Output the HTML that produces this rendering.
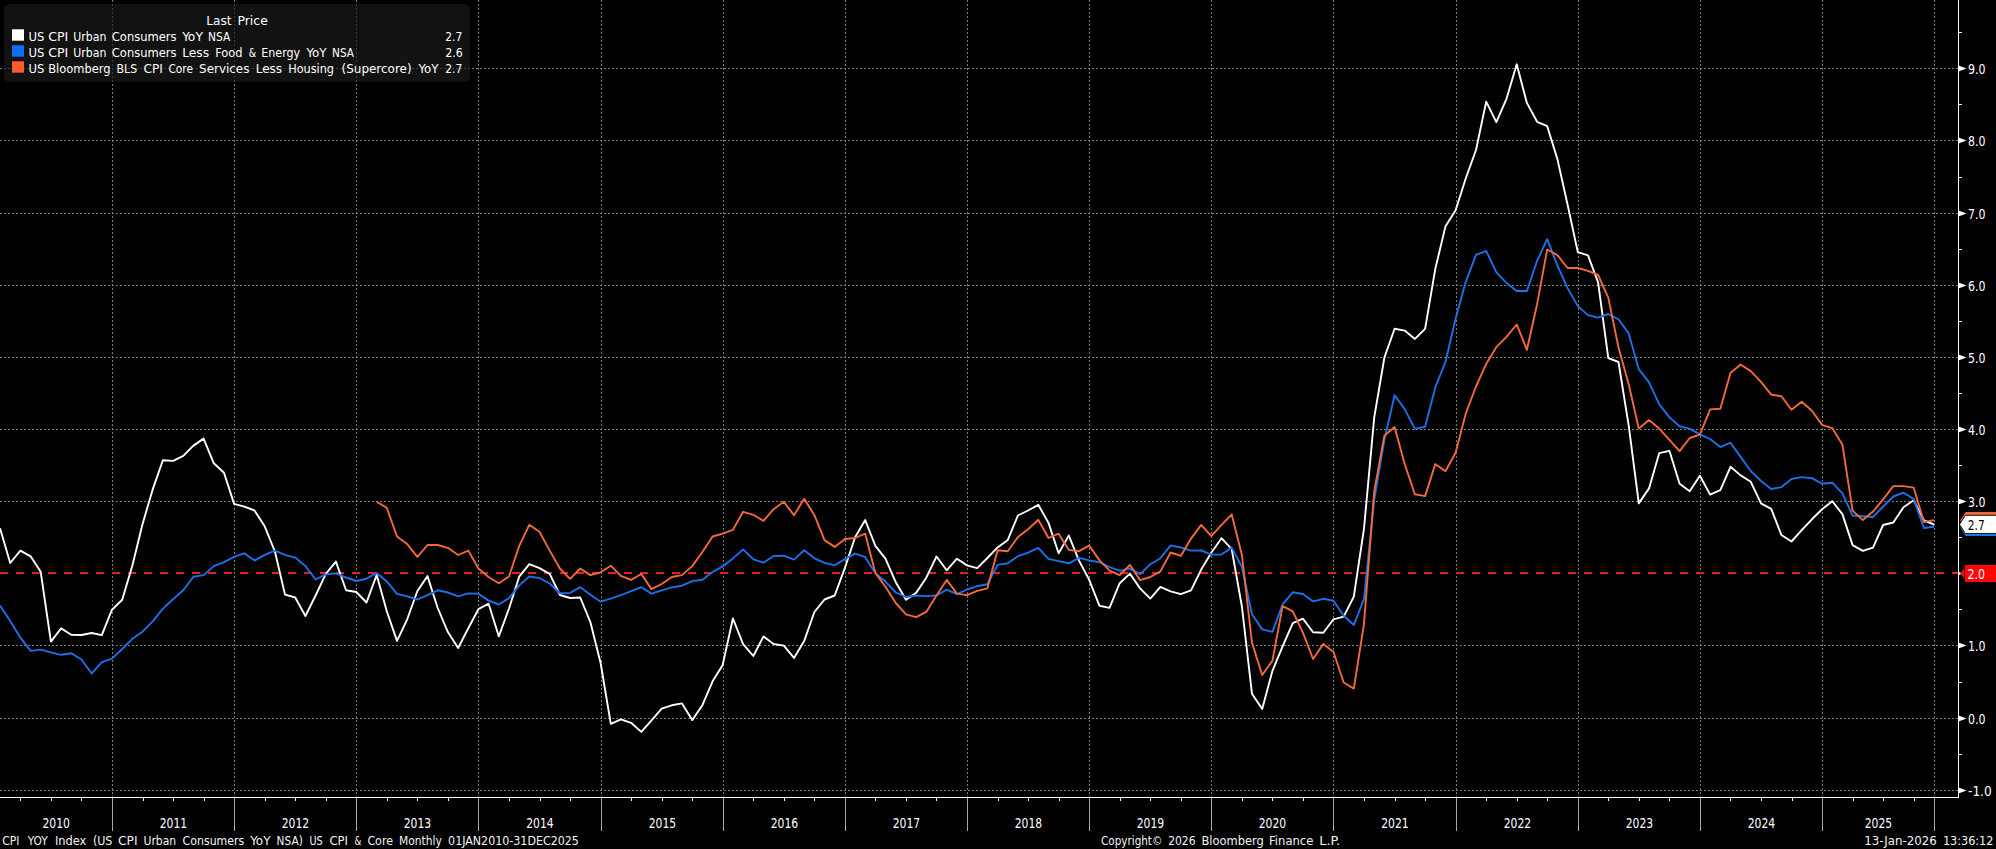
<!DOCTYPE html>
<html lang="en"><head><meta charset="utf-8"><title>US CPI &amp; Core</title>
<style>
html,body{margin:0;padding:0;background:#000;overflow:hidden}
body{width:1996px;height:849px;position:relative;font-family:"DejaVu Sans Condensed", "DejaVu Sans", "Liberation Sans", sans-serif}
</style></head><body>
<svg width="1996" height="849" viewBox="0 0 1996 849" style="display:block;position:absolute;left:0;top:0">
<rect x="0" y="0" width="1996" height="849" fill="#000"/>
<g stroke="#7c7c7c" stroke-width="1" stroke-dasharray="2 2" shape-rendering="crispEdges"><line x1="0" y1="68.5" x2="1958.5" y2="68.5"/><line x1="0" y1="140.5" x2="1958.5" y2="140.5"/><line x1="0" y1="213.5" x2="1958.5" y2="213.5"/><line x1="0" y1="285.5" x2="1958.5" y2="285.5"/><line x1="0" y1="357.5" x2="1958.5" y2="357.5"/><line x1="0" y1="429.5" x2="1958.5" y2="429.5"/><line x1="0" y1="501.5" x2="1958.5" y2="501.5"/><line x1="0" y1="645.5" x2="1958.5" y2="645.5"/><line x1="0" y1="718.5" x2="1958.5" y2="718.5"/><line x1="0" y1="790.5" x2="1958.5" y2="790.5"/><line x1="112.5" y1="0" x2="112.5" y2="797"/><line x1="234.5" y1="0" x2="234.5" y2="797"/><line x1="356.5" y1="0" x2="356.5" y2="797"/><line x1="478.5" y1="0" x2="478.5" y2="797"/><line x1="601.5" y1="0" x2="601.5" y2="797"/><line x1="723.5" y1="0" x2="723.5" y2="797"/><line x1="845.5" y1="0" x2="845.5" y2="797"/><line x1="967.5" y1="0" x2="967.5" y2="797"/><line x1="1089.5" y1="0" x2="1089.5" y2="797"/><line x1="1211.5" y1="0" x2="1211.5" y2="797"/><line x1="1333.5" y1="0" x2="1333.5" y2="797"/><line x1="1456.5" y1="0" x2="1456.5" y2="797"/><line x1="1578.5" y1="0" x2="1578.5" y2="797"/><line x1="1700.5" y1="0" x2="1700.5" y2="797"/><line x1="1822.5" y1="0" x2="1822.5" y2="797"/><line x1="1934.5" y1="0" x2="1934.5" y2="797"/></g>
<rect x="4" y="4" width="466" height="77.8" rx="5" ry="5" fill="#1c1c1c" fill-opacity="0.65"/>
<line x1="0" y1="573" x2="1958.0" y2="573" stroke="#e81c24" stroke-width="2" stroke-dasharray="8 8" shape-rendering="crispEdges"/>
<polyline fill="none" stroke="#ffffff" stroke-width="1.9" stroke-linejoin="round" points="0.0,528.2 10.2,563.0 20.4,550.7 30.6,556.3 40.7,571.8 50.9,641.6 61.1,628.4 71.3,634.7 81.5,635.0 91.6,633.0 101.8,635.1 112.0,609.7 122.2,599.8 132.4,565.5 142.5,524.2 152.7,489.4 162.9,460.2 173.1,460.9 183.3,455.9 193.4,445.6 203.6,438.6 213.8,463.3 224.0,472.8 234.1,503.9 244.3,506.6 254.5,510.5 264.7,526.3 274.9,551.5 285.0,594.6 295.2,597.5 305.4,616.0 315.6,595.5 325.8,573.9 335.9,561.6 346.1,590.3 356.3,592.0 366.5,602.5 376.7,574.9 386.8,611.2 397.0,640.9 407.2,619.3 417.4,591.0 427.5,576.1 437.7,608.0 447.9,632.1 458.1,648.0 468.3,628.3 478.4,609.2 488.6,603.7 498.8,636.3 509.0,608.5 519.2,576.7 529.3,564.1 539.5,568.1 549.7,573.9 559.9,595.0 570.1,598.0 580.2,597.5 590.4,622.2 600.6,663.0 610.8,723.9 620.9,719.3 631.1,722.8 641.3,731.9 651.5,720.4 661.7,708.6 671.8,705.3 682.0,703.4 692.2,720.1 702.4,705.2 712.6,681.3 722.7,664.9 732.9,618.5 743.1,644.1 753.3,656.0 763.5,636.4 773.6,644.0 783.8,645.6 794.0,657.9 804.2,640.9 814.4,612.0 824.5,599.5 834.7,595.5 844.9,567.9 855.1,537.2 865.2,520.1 875.4,545.9 885.6,558.9 895.8,582.3 906.0,599.7 916.1,592.9 926.3,577.7 936.5,556.5 946.7,570.3 956.9,558.7 967.0,565.4 977.2,568.2 987.4,558.0 997.6,547.4 1007.8,539.9 1017.9,515.5 1028.1,510.5 1038.3,504.8 1048.5,522.9 1058.6,553.3 1068.8,535.6 1079.0,560.6 1089.2,579.8 1099.4,605.7 1109.5,607.9 1119.7,583.2 1129.9,573.6 1140.1,588.4 1150.3,598.6 1160.4,586.9 1170.6,591.3 1180.8,594.1 1191.0,590.3 1201.2,569.6 1211.3,552.7 1221.5,538.2 1231.7,549.2 1241.9,606.5 1252.0,693.8 1262.2,709.0 1272.4,670.9 1282.6,646.4 1292.8,623.1 1302.9,618.6 1313.1,632.3 1323.3,632.8 1333.5,619.3 1343.7,616.6 1353.8,596.6 1364.0,528.6 1374.2,417.6 1384.4,357.5 1394.6,328.8 1404.7,330.6 1414.9,338.9 1425.1,328.9 1435.3,268.9 1445.4,226.6 1455.6,210.2 1465.8,178.2 1476.0,150.0 1486.2,101.6 1496.3,122.1 1506.5,98.8 1516.7,64.3 1526.9,102.9 1537.1,121.8 1547.2,126.2 1557.4,159.1 1567.6,204.8 1577.8,252.1 1588.0,255.3 1598.1,282.3 1608.3,358.1 1618.5,362.0 1628.7,425.7 1638.8,503.4 1649.0,488.4 1659.2,453.2 1669.4,450.8 1679.6,483.8 1689.7,491.3 1699.9,475.8 1710.1,494.6 1720.3,490.2 1730.5,466.8 1740.6,475.4 1750.8,481.8 1761.0,503.3 1771.2,508.8 1781.4,535.0 1791.5,541.5 1801.7,530.2 1811.9,519.3 1822.1,509.3 1832.2,501.2 1842.4,514.1 1852.6,545.1 1862.8,550.9 1873.0,547.7 1883.1,525.0 1893.3,522.5 1903.5,507.2 1913.7,500.3 1923.9,520.3 1934.0,524.5"/>
<polyline fill="none" stroke="#1f6fe8" stroke-width="1.9" stroke-linejoin="round" points="0.0,605.5 10.2,620.9 20.4,637.7 30.6,650.9 40.7,649.6 50.9,652.3 61.1,654.8 71.3,653.3 81.5,659.5 91.6,673.5 101.8,662.1 112.0,658.6 122.2,649.0 132.4,638.8 142.5,631.7 152.7,621.3 162.9,608.6 173.1,599.3 183.3,590.2 193.4,576.8 203.6,575.1 213.8,566.1 224.0,562.2 234.1,556.8 244.3,553.3 254.5,560.6 264.7,554.9 274.9,550.7 285.0,554.8 295.2,557.6 305.4,566.1 315.6,579.5 325.8,574.4 335.9,573.4 346.1,577.5 356.3,581.0 366.5,578.7 376.7,573.0 386.8,581.4 397.0,593.8 407.2,596.3 417.4,599.5 427.5,595.2 437.7,590.3 447.9,592.5 458.1,596.4 468.3,593.4 478.4,593.7 488.6,600.6 498.8,604.5 509.0,598.1 519.2,585.4 529.3,576.5 539.5,578.1 549.7,583.5 559.9,593.2 570.1,592.9 580.2,587.2 590.4,594.8 600.6,601.7 610.8,598.6 620.9,595.1 631.1,591.1 641.3,587.2 651.5,593.6 661.7,590.4 671.8,587.4 682.0,585.7 692.2,581.1 702.4,579.8 712.6,572.0 722.7,566.4 732.9,558.4 743.1,549.4 753.3,559.3 763.5,562.7 773.6,556.0 783.8,555.7 794.0,559.6 804.2,550.3 814.4,558.3 824.5,562.9 834.7,565.3 844.9,559.1 855.1,553.7 865.2,557.2 875.4,573.2 885.6,581.8 895.8,592.5 906.0,597.0 916.1,595.5 926.3,596.1 936.5,595.5 946.7,589.6 956.9,594.1 967.0,589.5 977.2,586.2 987.4,584.3 997.6,564.9 1007.8,563.3 1017.9,556.2 1028.1,552.6 1038.3,547.8 1048.5,558.9 1058.6,561.1 1068.8,563.3 1079.0,557.9 1089.2,560.4 1099.4,562.2 1109.5,567.2 1119.7,570.7 1129.9,568.6 1140.1,574.1 1150.3,564.2 1160.4,558.2 1170.6,545.4 1180.8,547.5 1191.0,550.6 1201.2,550.5 1211.3,554.6 1221.5,554.5 1231.7,547.6 1241.9,566.7 1252.0,614.2 1262.2,629.4 1272.4,631.9 1282.6,604.3 1292.8,592.3 1302.9,594.0 1313.1,601.4 1323.3,598.8 1333.5,600.7 1343.7,615.8 1353.8,625.0 1364.0,598.8 1374.2,499.8 1384.4,439.9 1394.6,395.2 1404.7,409.1 1414.9,428.9 1425.1,426.8 1435.3,387.4 1445.4,362.2 1455.6,318.7 1465.8,281.6 1476.0,254.8 1486.2,251.0 1496.3,272.1 1506.5,283.1 1516.7,291.0 1526.9,291.0 1537.1,260.8 1547.2,239.1 1557.4,265.5 1567.6,288.1 1577.8,306.1 1588.0,315.1 1598.1,317.7 1608.3,314.0 1618.5,319.3 1628.7,333.4 1638.8,369.2 1649.0,382.4 1659.2,404.1 1669.4,417.3 1679.6,426.3 1689.7,428.6 1699.9,434.3 1710.1,439.0 1720.3,447.1 1730.5,442.7 1740.6,456.9 1750.8,471.0 1761.0,481.0 1771.2,489.0 1781.4,487.1 1791.5,479.0 1801.7,477.1 1811.9,478.2 1822.1,483.7 1832.2,482.7 1842.4,493.3 1852.6,515.5 1862.8,516.3 1873.0,517.0 1883.1,506.5 1893.3,496.5 1903.5,492.7 1913.7,499.0 1923.9,528.0 1934.0,526.7"/>
<polyline fill="none" stroke="#f26a3c" stroke-width="1.9" stroke-linejoin="round" points="376.7,501.7 386.8,507.9 397.0,536.5 407.2,544.1 417.4,556.9 427.5,545.0 437.7,545.0 447.9,547.8 458.1,555.0 468.3,550.6 478.4,568.5 488.6,577.0 498.8,583.2 509.0,576.5 519.2,545.9 529.3,524.8 539.5,531.8 549.7,550.6 559.9,568.5 570.1,578.9 580.2,568.5 590.4,575.1 600.6,572.3 610.8,565.7 620.9,575.9 631.1,579.8 641.3,574.0 651.5,589.1 661.7,584.0 671.8,577.0 682.0,575.1 692.2,566.1 702.4,552.0 712.6,536.5 722.7,533.7 732.9,529.9 743.1,511.8 753.3,514.8 763.5,520.9 773.6,509.2 783.8,501.7 794.0,515.2 804.2,498.8 814.4,515.2 824.5,540.1 834.7,546.9 844.9,539.0 855.1,538.0 865.2,533.7 875.4,572.9 885.6,587.0 895.8,603.0 906.0,614.3 916.1,617.2 926.3,611.9 936.5,595.5 946.7,579.9 956.9,593.6 967.0,595.1 977.2,590.8 987.4,588.3 997.6,550.3 1007.8,551.2 1017.9,537.1 1028.1,529.2 1038.3,519.8 1048.5,538.0 1058.6,533.7 1068.8,549.9 1079.0,551.2 1089.2,545.6 1099.4,560.1 1109.5,570.6 1119.7,575.2 1129.9,565.0 1140.1,580.1 1150.3,577.0 1160.4,571.4 1170.6,552.5 1180.8,555.9 1191.0,538.6 1201.2,524.9 1211.3,536.2 1221.5,524.9 1231.7,514.5 1241.9,555.0 1252.0,642.9 1262.2,675.0 1272.4,660.8 1282.6,606.2 1292.8,611.3 1302.9,632.6 1313.1,659.0 1323.3,643.9 1333.5,652.0 1343.7,682.5 1353.8,688.6 1364.0,623.8 1374.2,491.4 1384.4,435.4 1394.6,427.0 1404.7,464.1 1414.9,494.3 1425.1,496.1 1435.3,464.1 1445.4,471.3 1455.6,452.8 1465.8,413.4 1476.0,386.5 1486.2,363.9 1496.3,347.2 1506.5,336.8 1516.7,324.5 1526.9,349.8 1537.1,304.2 1547.2,249.5 1557.4,255.2 1567.6,268.0 1577.8,268.0 1588.0,270.8 1598.1,275.0 1608.3,297.6 1618.5,347.5 1628.7,384.3 1638.8,428.6 1649.0,420.1 1659.2,428.6 1669.4,439.9 1679.6,451.2 1689.7,438.0 1699.9,434.6 1710.1,409.4 1720.3,408.8 1730.5,373.0 1740.6,364.5 1750.8,371.1 1761.0,381.8 1771.2,394.7 1781.4,396.2 1791.5,409.8 1801.7,401.7 1811.9,410.7 1822.1,424.9 1832.2,428.1 1842.4,444.7 1852.6,510.6 1862.8,520.1 1873.0,511.6 1883.1,499.3 1893.3,486.1 1903.5,486.1 1913.7,487.6 1923.9,522.0 1934.0,520.1"/>
<polygon points="1960.2,520.60 1965.6,512.00 1998,512.00 1998,529.20 1965.6,529.20" fill="#f0693c"/>
<polygon points="1960.2,527.30 1965.6,518.70 1998,518.70 1998,535.90 1965.6,535.90" fill="#1f74ea"/>
<polygon points="1959.5,524.40 1965.3,515.35 1998,515.35 1998,533.45 1965.3,533.45" fill="#fff" stroke="#000" stroke-width="0.9" stroke-linejoin="miter"/>
<text x="1967.7" y="529.8" font-family='"DejaVu Sans Condensed", "DejaVu Sans", "Liberation Sans", sans-serif' font-size="13.5" fill="#000" textLength="17" lengthAdjust="spacingAndGlyphs">2.7</text>
<polygon points="1958.5,571.4 1961.7,573.5 1958.5,575.6" fill="#fff"/>
<polygon points="1960.3,573.3 1964.2,568.2 1964.2,578.5" fill="#ff0a0a"/>
<rect x="1964.8" y="564.9" width="34" height="17.1" fill="#ff0505"/>
<text x="1967.5" y="579.0" font-family='"DejaVu Sans Condensed", "DejaVu Sans", "Liberation Sans", sans-serif' font-size="13.5" fill="#fff" textLength="17.5" lengthAdjust="spacingAndGlyphs">2.0</text>
<g stroke="#fff" stroke-width="1" shape-rendering="crispEdges">
<line x1="1958.5" y1="0" x2="1958.5" y2="798"/>
<line x1="0" y1="797.5" x2="1958.5" y2="797.5"/>
<line x1="1958.5" y1="754.5" x2="1962.0" y2="754.5"/>
<line x1="1958.5" y1="682.5" x2="1962.0" y2="682.5"/>
<line x1="1958.5" y1="609.5" x2="1962.0" y2="609.5"/>
<line x1="1958.5" y1="537.5" x2="1962.0" y2="537.5"/>
<line x1="1958.5" y1="465.5" x2="1962.0" y2="465.5"/>
<line x1="1958.5" y1="393.5" x2="1962.0" y2="393.5"/>
<line x1="1958.5" y1="321.5" x2="1962.0" y2="321.5"/>
<line x1="1958.5" y1="249.5" x2="1962.0" y2="249.5"/>
<line x1="1958.5" y1="177.5" x2="1962.0" y2="177.5"/>
<line x1="1958.5" y1="104.5" x2="1962.0" y2="104.5"/>
<line x1="1958.5" y1="32.5" x2="1962.0" y2="32.5"/>
</g>
<g stroke="#f0f0f0" stroke-width="1" shape-rendering="crispEdges">
<line x1="20.5" y1="798" x2="20.5" y2="801"/>
<line x1="51.5" y1="798" x2="51.5" y2="801"/>
<line x1="81.5" y1="798" x2="81.5" y2="801"/>
<line x1="143.5" y1="798" x2="143.5" y2="801"/>
<line x1="173.5" y1="798" x2="173.5" y2="801"/>
<line x1="204.5" y1="798" x2="204.5" y2="801"/>
<line x1="265.5" y1="798" x2="265.5" y2="801"/>
<line x1="295.5" y1="798" x2="295.5" y2="801"/>
<line x1="326.5" y1="798" x2="326.5" y2="801"/>
<line x1="387.5" y1="798" x2="387.5" y2="801"/>
<line x1="417.5" y1="798" x2="417.5" y2="801"/>
<line x1="448.5" y1="798" x2="448.5" y2="801"/>
<line x1="509.5" y1="798" x2="509.5" y2="801"/>
<line x1="540.5" y1="798" x2="540.5" y2="801"/>
<line x1="570.5" y1="798" x2="570.5" y2="801"/>
<line x1="631.5" y1="798" x2="631.5" y2="801"/>
<line x1="662.5" y1="798" x2="662.5" y2="801"/>
<line x1="692.5" y1="798" x2="692.5" y2="801"/>
<line x1="753.5" y1="798" x2="753.5" y2="801"/>
<line x1="784.5" y1="798" x2="784.5" y2="801"/>
<line x1="814.5" y1="798" x2="814.5" y2="801"/>
<line x1="875.5" y1="798" x2="875.5" y2="801"/>
<line x1="906.5" y1="798" x2="906.5" y2="801"/>
<line x1="936.5" y1="798" x2="936.5" y2="801"/>
<line x1="998.5" y1="798" x2="998.5" y2="801"/>
<line x1="1028.5" y1="798" x2="1028.5" y2="801"/>
<line x1="1059.5" y1="798" x2="1059.5" y2="801"/>
<line x1="1120.5" y1="798" x2="1120.5" y2="801"/>
<line x1="1150.5" y1="798" x2="1150.5" y2="801"/>
<line x1="1181.5" y1="798" x2="1181.5" y2="801"/>
<line x1="1242.5" y1="798" x2="1242.5" y2="801"/>
<line x1="1272.5" y1="798" x2="1272.5" y2="801"/>
<line x1="1303.5" y1="798" x2="1303.5" y2="801"/>
<line x1="1364.5" y1="798" x2="1364.5" y2="801"/>
<line x1="1395.5" y1="798" x2="1395.5" y2="801"/>
<line x1="1425.5" y1="798" x2="1425.5" y2="801"/>
<line x1="1486.5" y1="798" x2="1486.5" y2="801"/>
<line x1="1517.5" y1="798" x2="1517.5" y2="801"/>
<line x1="1547.5" y1="798" x2="1547.5" y2="801"/>
<line x1="1608.5" y1="798" x2="1608.5" y2="801"/>
<line x1="1639.5" y1="798" x2="1639.5" y2="801"/>
<line x1="1669.5" y1="798" x2="1669.5" y2="801"/>
<line x1="1730.5" y1="798" x2="1730.5" y2="801"/>
<line x1="1761.5" y1="798" x2="1761.5" y2="801"/>
<line x1="1792.5" y1="798" x2="1792.5" y2="801"/>
<line x1="1853.5" y1="798" x2="1853.5" y2="801"/>
<line x1="1883.5" y1="798" x2="1883.5" y2="801"/>
<line x1="1914.5" y1="798" x2="1914.5" y2="801"/>
</g>
<g stroke="#a4a4a4" stroke-width="1" shape-rendering="crispEdges">
<line x1="112.5" y1="798" x2="112.5" y2="831"/>
<line x1="234.5" y1="798" x2="234.5" y2="831"/>
<line x1="356.5" y1="798" x2="356.5" y2="831"/>
<line x1="478.5" y1="798" x2="478.5" y2="831"/>
<line x1="601.5" y1="798" x2="601.5" y2="831"/>
<line x1="723.5" y1="798" x2="723.5" y2="831"/>
<line x1="845.5" y1="798" x2="845.5" y2="831"/>
<line x1="967.5" y1="798" x2="967.5" y2="831"/>
<line x1="1089.5" y1="798" x2="1089.5" y2="831"/>
<line x1="1211.5" y1="798" x2="1211.5" y2="831"/>
<line x1="1333.5" y1="798" x2="1333.5" y2="831"/>
<line x1="1456.5" y1="798" x2="1456.5" y2="831"/>
<line x1="1578.5" y1="798" x2="1578.5" y2="831"/>
<line x1="1700.5" y1="798" x2="1700.5" y2="831"/>
<line x1="1822.5" y1="798" x2="1822.5" y2="831"/>
<line x1="1934.5" y1="798" x2="1934.5" y2="831"/>
</g>
<g font-family='"DejaVu Sans Condensed", "DejaVu Sans", "Liberation Sans", sans-serif' font-size="13.5" fill="#fff">
<polygon points="1958.5,787.6 1966.5,790.5 1958.5,793.4" fill="#fff"/>
<text x="1968" y="795.9" textLength="23.7" lengthAdjust="spacingAndGlyphs">-1.0</text>
<polygon points="1958.5,715.6 1966.5,718.5 1958.5,721.4" fill="#fff"/>
<text x="1968" y="723.9" textLength="17.5" lengthAdjust="spacingAndGlyphs">0.0</text>
<polygon points="1958.5,642.6 1966.5,645.5 1958.5,648.4" fill="#fff"/>
<text x="1968" y="650.9" textLength="17.5" lengthAdjust="spacingAndGlyphs">1.0</text>
<polygon points="1958.5,498.6 1966.5,501.5 1958.5,504.4" fill="#fff"/>
<text x="1968" y="506.9" textLength="17.5" lengthAdjust="spacingAndGlyphs">3.0</text>
<polygon points="1958.5,426.6 1966.5,429.5 1958.5,432.4" fill="#fff"/>
<text x="1968" y="434.9" textLength="17.5" lengthAdjust="spacingAndGlyphs">4.0</text>
<polygon points="1958.5,354.6 1966.5,357.5 1958.5,360.4" fill="#fff"/>
<text x="1968" y="362.9" textLength="17.5" lengthAdjust="spacingAndGlyphs">5.0</text>
<polygon points="1958.5,282.6 1966.5,285.5 1958.5,288.4" fill="#fff"/>
<text x="1968" y="290.9" textLength="17.5" lengthAdjust="spacingAndGlyphs">6.0</text>
<polygon points="1958.5,210.6 1966.5,213.5 1958.5,216.4" fill="#fff"/>
<text x="1968" y="218.9" textLength="17.5" lengthAdjust="spacingAndGlyphs">7.0</text>
<polygon points="1958.5,137.6 1966.5,140.5 1958.5,143.4" fill="#fff"/>
<text x="1968" y="145.9" textLength="17.5" lengthAdjust="spacingAndGlyphs">8.0</text>
<polygon points="1958.5,65.6 1966.5,68.5 1958.5,71.4" fill="#fff"/>
<text x="1968" y="73.9" textLength="17.5" lengthAdjust="spacingAndGlyphs">9.0</text>
</g>
<g font-family='"DejaVu Sans Condensed", "DejaVu Sans", "Liberation Sans", sans-serif' font-size="13.5" fill="#fff" text-anchor="middle">
<text x="56.2" y="827.9" textLength="27.5" lengthAdjust="spacingAndGlyphs">2010</text>
<text x="173.5" y="827.9" textLength="27.5" lengthAdjust="spacingAndGlyphs">2011</text>
<text x="295.5" y="827.9" textLength="27.5" lengthAdjust="spacingAndGlyphs">2012</text>
<text x="417.5" y="827.9" textLength="27.5" lengthAdjust="spacingAndGlyphs">2013</text>
<text x="540.0" y="827.9" textLength="27.5" lengthAdjust="spacingAndGlyphs">2014</text>
<text x="662.5" y="827.9" textLength="27.5" lengthAdjust="spacingAndGlyphs">2015</text>
<text x="784.5" y="827.9" textLength="27.5" lengthAdjust="spacingAndGlyphs">2016</text>
<text x="906.5" y="827.9" textLength="27.5" lengthAdjust="spacingAndGlyphs">2017</text>
<text x="1028.5" y="827.9" textLength="27.5" lengthAdjust="spacingAndGlyphs">2018</text>
<text x="1150.5" y="827.9" textLength="27.5" lengthAdjust="spacingAndGlyphs">2019</text>
<text x="1272.5" y="827.9" textLength="27.5" lengthAdjust="spacingAndGlyphs">2020</text>
<text x="1395.0" y="827.9" textLength="27.5" lengthAdjust="spacingAndGlyphs">2021</text>
<text x="1517.5" y="827.9" textLength="27.5" lengthAdjust="spacingAndGlyphs">2022</text>
<text x="1639.5" y="827.9" textLength="27.5" lengthAdjust="spacingAndGlyphs">2023</text>
<text x="1761.5" y="827.9" textLength="27.5" lengthAdjust="spacingAndGlyphs">2024</text>
<text x="1878.5" y="827.9" textLength="27.5" lengthAdjust="spacingAndGlyphs">2025</text>
</g>
<text y="844.8" font-family='"DejaVu Sans Condensed", "DejaVu Sans", "Liberation Sans", sans-serif' font-size="12.2" fill="#f4f4f4" xml:space="preserve"><tspan x="2.3" textLength="17.2" lengthAdjust="spacingAndGlyphs">CPI</tspan> <tspan x="27.8" textLength="20.0" lengthAdjust="spacingAndGlyphs">YOY</tspan> <tspan x="54.9" textLength="31.5" lengthAdjust="spacingAndGlyphs">Index</tspan> <tspan x="92.9" textLength="19.5" lengthAdjust="spacingAndGlyphs">(US</tspan> <tspan x="118" textLength="19.5" lengthAdjust="spacingAndGlyphs">CPI</tspan> <tspan x="143.5" textLength="32.7" lengthAdjust="spacingAndGlyphs">Urban</tspan> <tspan x="182.6" textLength="61.7" lengthAdjust="spacingAndGlyphs">Consumers</tspan> <tspan x="250.3" textLength="20.3" lengthAdjust="spacingAndGlyphs">YoY</tspan> <tspan x="276.6" textLength="26.2" lengthAdjust="spacingAndGlyphs">NSA)</tspan> <tspan x="309.5" textLength="13.3" lengthAdjust="spacingAndGlyphs">US</tspan> <tspan x="329.4" textLength="18.5" lengthAdjust="spacingAndGlyphs">CPI</tspan> <tspan x="354.6" textLength="6.8" lengthAdjust="spacingAndGlyphs">&amp;</tspan> <tspan x="367.4" textLength="25.6" lengthAdjust="spacingAndGlyphs">Core</tspan> <tspan x="399" textLength="42.8" lengthAdjust="spacingAndGlyphs">Monthly</tspan> <tspan x="448.1" textLength="130.8" lengthAdjust="spacingAndGlyphs">01JAN2010-31DEC2025</tspan></text>
<text y="844.8" font-family='"DejaVu Sans Condensed", "DejaVu Sans", "Liberation Sans", sans-serif' font-size="12.2" fill="#f4f4f4" xml:space="preserve"><tspan x="1101.1" textLength="61.2" lengthAdjust="spacingAndGlyphs">Copyright©</tspan> <tspan x="1168.2" textLength="27.3" lengthAdjust="spacingAndGlyphs">2026</tspan> <tspan x="1201.4" textLength="62.5" lengthAdjust="spacingAndGlyphs">Bloomberg</tspan> <tspan x="1269.1" textLength="44.3" lengthAdjust="spacingAndGlyphs">Finance</tspan> <tspan x="1319.3" textLength="20.8" lengthAdjust="spacingAndGlyphs">L.P.</tspan></text>
<text y="844.8" font-family='"DejaVu Sans Condensed", "DejaVu Sans", "Liberation Sans", sans-serif' font-size="12.2" fill="#f4f4f4" xml:space="preserve"><tspan x="1864.3" textLength="72.4" lengthAdjust="spacingAndGlyphs">13-Jan-2026</tspan> <tspan x="1942.9" textLength="50.5" lengthAdjust="spacingAndGlyphs">13:36:12</tspan></text>
<text y="24.9" font-family='"DejaVu Sans Condensed", "DejaVu Sans", "Liberation Sans", sans-serif' font-size="13.0" fill="#fff" xml:space="preserve"><tspan x="206.2" textLength="25.3" lengthAdjust="spacingAndGlyphs">Last</tspan> <tspan x="237.5" textLength="30.3" lengthAdjust="spacingAndGlyphs">Price</tspan></text>
<rect x="12" y="29.3" width="12" height="11.4" fill="#fff"/>
<rect x="12" y="45.3" width="12" height="11.4" fill="#0f6ffa"/>
<rect x="12" y="61.3" width="12" height="11.4" fill="#ff5c2b"/>
<text y="40.8" font-family='"DejaVu Sans Condensed", "DejaVu Sans", "Liberation Sans", sans-serif' font-size="13.0" fill="#fff" xml:space="preserve"><tspan x="28.6" textLength="15.9" lengthAdjust="spacingAndGlyphs">US</tspan> <tspan x="48.2" textLength="20.1" lengthAdjust="spacingAndGlyphs">CPI</tspan> <tspan x="73.3" textLength="33.2" lengthAdjust="spacingAndGlyphs">Urban</tspan> <tspan x="111.8" textLength="64.8" lengthAdjust="spacingAndGlyphs">Consumers</tspan> <tspan x="182.2" textLength="20.7" lengthAdjust="spacingAndGlyphs">YoY</tspan> <tspan x="207.9" textLength="22.3" lengthAdjust="spacingAndGlyphs">NSA</tspan></text>
<text y="40.8" font-family='"DejaVu Sans Condensed", "DejaVu Sans", "Liberation Sans", sans-serif' font-size="13.0" fill="#fff" xml:space="preserve"><tspan x="445.2" textLength="17.1" lengthAdjust="spacingAndGlyphs">2.7</tspan></text>
<text y="56.7" font-family='"DejaVu Sans Condensed", "DejaVu Sans", "Liberation Sans", sans-serif' font-size="13.0" fill="#fff" xml:space="preserve"><tspan x="28.6" textLength="15.9" lengthAdjust="spacingAndGlyphs">US</tspan> <tspan x="48.2" textLength="20.1" lengthAdjust="spacingAndGlyphs">CPI</tspan> <tspan x="73.3" textLength="33.2" lengthAdjust="spacingAndGlyphs">Urban</tspan> <tspan x="111.8" textLength="64.8" lengthAdjust="spacingAndGlyphs">Consumers</tspan> <tspan x="182.2" textLength="27.0" lengthAdjust="spacingAndGlyphs">Less</tspan> <tspan x="215.2" textLength="27.3" lengthAdjust="spacingAndGlyphs">Food</tspan> <tspan x="248.8" textLength="7.3" lengthAdjust="spacingAndGlyphs">&amp;</tspan> <tspan x="261.3" textLength="38.8" lengthAdjust="spacingAndGlyphs">Energy</tspan> <tspan x="306.4" textLength="20.0" lengthAdjust="spacingAndGlyphs">YoY</tspan> <tspan x="332.1" textLength="21.9" lengthAdjust="spacingAndGlyphs">NSA</tspan></text>
<text y="56.7" font-family='"DejaVu Sans Condensed", "DejaVu Sans", "Liberation Sans", sans-serif' font-size="13.0" fill="#fff" xml:space="preserve"><tspan x="445.2" textLength="17.5" lengthAdjust="spacingAndGlyphs">2.6</tspan></text>
<text y="72.7" font-family='"DejaVu Sans Condensed", "DejaVu Sans", "Liberation Sans", sans-serif' font-size="13.0" fill="#fff" xml:space="preserve"><tspan x="28.6" textLength="15.9" lengthAdjust="spacingAndGlyphs">US</tspan> <tspan x="48.2" textLength="62.3" lengthAdjust="spacingAndGlyphs">Bloomberg</tspan> <tspan x="116.5" textLength="20.6" lengthAdjust="spacingAndGlyphs">BLS</tspan> <tspan x="143.4" textLength="19.4" lengthAdjust="spacingAndGlyphs">CPI</tspan> <tspan x="168.5" textLength="24.4" lengthAdjust="spacingAndGlyphs">Core</tspan> <tspan x="199.1" textLength="50.3" lengthAdjust="spacingAndGlyphs">Services</tspan> <tspan x="255.7" textLength="26.3" lengthAdjust="spacingAndGlyphs">Less</tspan> <tspan x="288.2" textLength="45.8" lengthAdjust="spacingAndGlyphs">Housing</tspan> <tspan x="341.5" textLength="70.1" lengthAdjust="spacingAndGlyphs">(Supercore)</tspan> <tspan x="418.5" textLength="20.0" lengthAdjust="spacingAndGlyphs">YoY</tspan> <tspan x="445.2" textLength="17.1" lengthAdjust="spacingAndGlyphs">2.7</tspan></text>
</svg>
</body></html>
